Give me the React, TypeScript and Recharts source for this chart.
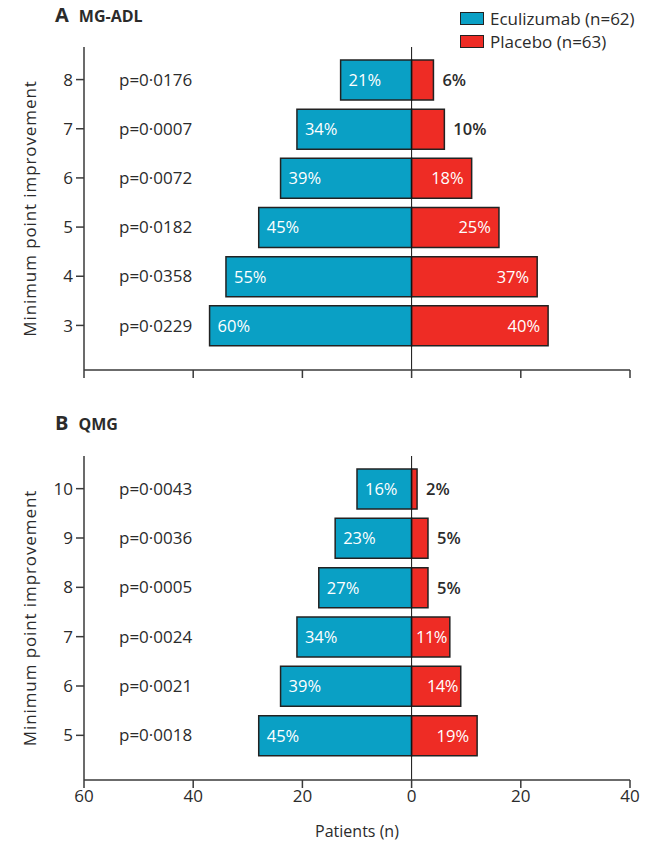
import React from 'react'
import { BarChart, Bar, XAxis, YAxis, ReferenceLine, LabelList } from 'recharts'

const BLUE = '#0aa0c5'
const RED = '#ee2c25'
const INK = '#2b2b2b'
const FONT = '"Open Sans", "Noto Sans", sans-serif'

// Panel A: MG-ADL
const mgadlLevels = ['8', '7', '6', '5', '4', '3']
const mgadlEcu = [13, 21, 24, 28, 34, 37]
const mgadlPla = [4, 6, 11, 16, 23, 25]
const mgadlEcuPct = ['21%', '34%', '39%', '45%', '55%', '60%']
const mgadlPlaPct = ['6%', '10%', '18%', '25%', '37%', '40%']
const mgadlP = ['p=0·0176', 'p=0·0007', 'p=0·0072', 'p=0·0182', 'p=0·0358', 'p=0·0229']

// Panel B: QMG
const qmgLevels = ['10', '9', '8', '7', '6', '5']
const qmgEcu = [10, 14, 17, 21, 24, 28]
const qmgPla = [1, 3, 3, 7, 9, 12]
const qmgEcuPct = ['16%', '23%', '27%', '34%', '39%', '45%']
const qmgPlaPct = ['2%', '5%', '5%', '11%', '14%', '19%']
const qmgP = ['p=0·0043', 'p=0·0036', 'p=0·0005', 'p=0·0024', 'p=0·0021', 'p=0·0018']

const xTicks = [-60, -40, -20, 0, 20, 40]

function buildRows(levels: string[], ecu: number[], pla: number[], ecuPct: string[], plaPct: string[], p: string[]) {
  return levels.map((level, i) => ({
    level,
    ecu: -ecu[i], // eculizumab drawn to the left
    pla: pla[i],
    ecuPct: ecuPct[i],
    plaPct: plaPct[i],
    p: p[i],
  }))
}

const mgadlRows = buildRows(mgadlLevels, mgadlEcu, mgadlPla, mgadlEcuPct, mgadlPlaPct, mgadlP)
const qmgRows = buildRows(qmgLevels, qmgEcu, qmgPla, qmgEcuPct, qmgPlaPct, qmgP)

function EcuLabel(props: any) {
  const { x, y, width, height, value } = props
  const left = Math.min(x, x + width)
  return (
    <text x={left + 8} y={y + height / 2} dy="0.36em" fill="#fff" fontSize={16.5} fontFamily={FONT}>
      {value}
    </text>
  )
}

function PlaLabel(props: any) {
  const { x, y, width, height, value } = props
  const right = Math.max(x, x + width)
  const w = Math.abs(width)
  const inside = w > 35
  const pad = w < 50 ? 3 : 8
  return (
    <text
      x={inside ? right - pad : right + 9}
      y={y + height / 2}
      dy="0.36em"
      textAnchor={inside ? 'end' : 'start'}
      fill={inside ? '#fff' : INK}
      fontSize={16.5}
      fontWeight={inside ? 400 : 600}
      letterSpacing={inside && w < 50 ? -0.6 : 0}
      fontFamily={FONT}
    >
      {value}
    </text>
  )
}

function makeYTick(levels: string[], pValues: string[]) {
  return (props: any) => {
    const { x, y, payload } = props
    const i = levels.indexOf(String(payload.value))
    return (
      <g>
        <text x={x} y={y} dy="0.36em" textAnchor="end" fill={INK} fontSize={17} fontFamily={FONT}>
          {payload.value}
        </text>
        <text x={x + 46} y={y} dy="0.36em" fill={INK} fontSize={17} fontFamily={FONT}>
          {pValues[i]}
        </text>
      </g>
    )
  }
}

function YLabel(props: any) {
  const { viewBox } = props
  const cx = viewBox.x + 30
  const cy = viewBox.y + viewBox.height / 2
  return (
    <text x={cx} y={cy} transform={`rotate(-90 ${cx} ${cy})`} textAnchor="middle" dy="0.36em" fill={INK} fontSize={17} letterSpacing={0.9} fontFamily={FONT}>
      Minimum point improvement
    </text>
  )
}

function Panel({ rows, levels, pValues, height, top, xAxisHeight, showTickLabels }: any) {
  return (
    <BarChart
      width={658}
      height={height}
      data={rows}
      layout="vertical"
      stackOffset="sign"
      margin={{ top, right: 28, bottom: 0, left: 0 }}
    >
      <XAxis
        type="number"
        domain={[-60, 40]}
        ticks={xTicks}
        allowDataOverflow
        tickSize={8}
        tickFormatter={(v: number) => String(Math.abs(v))}
        height={xAxisHeight}
        stroke="#3a3a3a"
        strokeWidth={1.5}
        tick={showTickLabels ? { fill: INK, fontSize: 17, fontFamily: FONT } : () => <g />}
        label={showTickLabels ? { value: 'Patients (n)', position: 'insideBottom', offset: 5, fill: INK, fontSize: 16, fontFamily: FONT } : undefined}
      />
      <YAxis
        type="category"
        dataKey="level"
        width={84}
        tickSize={8}
        tickMargin={3}
        padding={{ top: 8, bottom: 20 }}
        stroke="#3a3a3a"
        strokeWidth={1.5}
        tick={makeYTick(levels, pValues)}
        label={<YLabel />}
      />
      <Bar dataKey="ecu" stackId="s" fill={BLUE} stroke="#222" strokeWidth={1.5} barSize={40} isAnimationActive={false}>
        <LabelList dataKey="ecuPct" content={<EcuLabel />} />
      </Bar>
      <Bar dataKey="pla" stackId="s" fill={RED} stroke="#222" strokeWidth={1.5} barSize={40} isAnimationActive={false}>
        <LabelList dataKey="plaPct" content={<PlaLabel />} />
      </Bar>
      <ReferenceLine x={0} stroke="#111" strokeWidth={1} />
    </BarChart>
  )
}

function Title({ letter, name, top }: { letter: string; name: string; top: number }) {
  return (
    <div style={{ position: 'absolute', left: 55, top, fontFamily: FONT, color: INK, whiteSpace: 'nowrap' }}>
      <span style={{ fontSize: 20, fontWeight: 700 }}>{letter}</span>
      <span style={{ fontSize: 16, fontWeight: 700, marginLeft: 10 }}>{name}</span>
    </div>
  )
}

function LegendBox() {
  const items = [
    { label: 'Eculizumab (n=62)', color: BLUE },
    { label: 'Placebo (n=63)', color: RED },
  ]
  return (
    <div style={{ position: 'absolute', left: 460, top: 7, fontFamily: FONT, color: INK, fontSize: 17 }}>
      {items.map((it) => (
        <div key={it.label} style={{ display: 'flex', alignItems: 'center', height: 23 }}>
          <span style={{ width: 22, height: 11, background: it.color, border: '1.5px solid #222', marginRight: 6 }} />
          <span>{it.label}</span>
        </div>
      ))}
    </div>
  )
}

export default function App() {
  return (
    <div style={{ position: 'absolute', left: 0, top: 0, width: 658, height: 842, background: '#fff' }}>
      <div style={{ position: 'absolute', left: 0, top: 0 }}>
        <Panel rows={mgadlRows} levels={mgadlLevels} pValues={mgadlP} height={400} top={47} xAxisHeight={30} showTickLabels={false} />
      </div>
      <div style={{ position: 'absolute', left: 0, top: 400 }}>
        <Panel rows={qmgRows} levels={qmgLevels} pValues={qmgP} height={442} top={56} xAxisHeight={62} showTickLabels />
      </div>
      <Title letter="A" name="MG-ADL" top={1} />
      <Title letter="B" name="QMG" top={409} />
      <LegendBox />
    </div>
  )
}
